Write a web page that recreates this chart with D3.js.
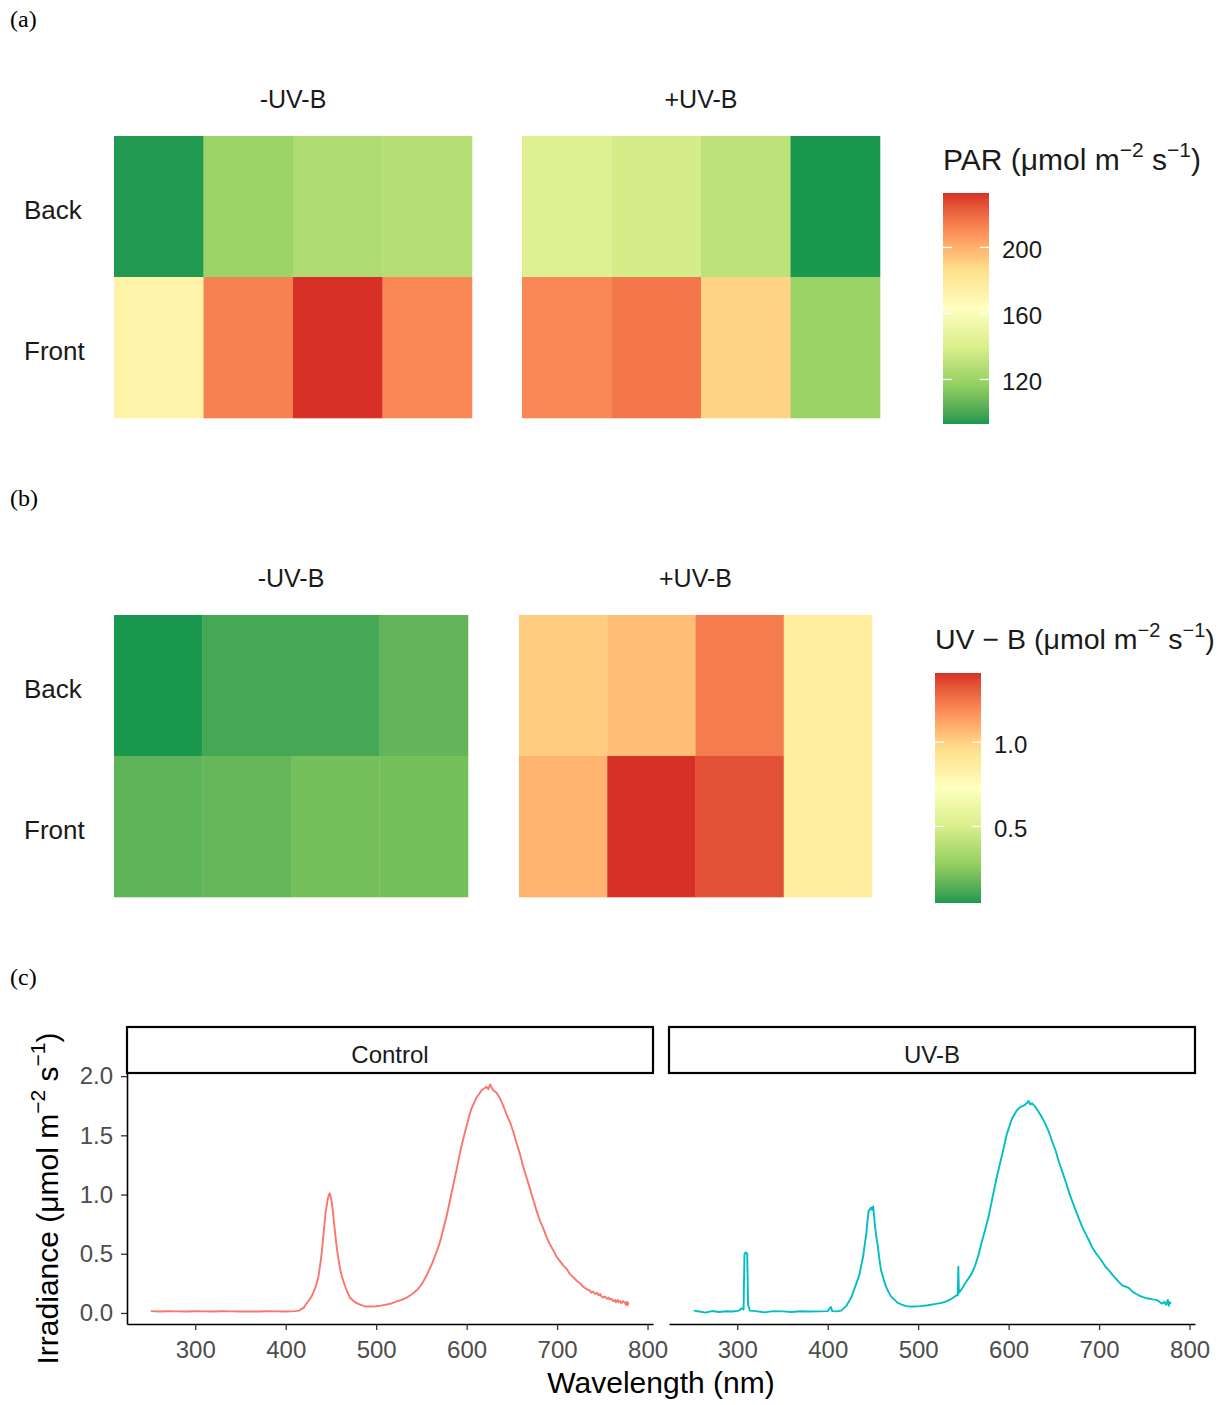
<!DOCTYPE html>
<html>
<head>
<meta charset="utf-8">
<script src="https://cdn.jsdelivr.net/npm/d3@7/dist/d3.min.js"></script>
<style>
  body { margin: 0; background: #fff; }
  svg { display: block; font-family: "Liberation Sans", Arial, sans-serif; }
</style>
</head>
<body>
<script>
// ---------------- DATA ----------------
const treatments = ["-UV-B", "+UV-B"];
const positions = ["Back", "Front"];
const columns = ["1", "2", "3", "4"];

// (a) PAR (µmol m-2 s-1)
const parMinusBack  = [94, 120, 126, 128];
const parMinusFront = [173, 213, 233, 211];
const parPlusBack   = [143, 138, 130, 93];
const parPlusFront  = [211, 216, 190, 119];
const parTicks = [120, 160, 200];

// (b) UV-B (µmol m-2 s-1)
const uvbMinusBack  = [0.046, 0.11, 0.11, 0.165];
const uvbMinusFront = [0.16, 0.175, 0.21, 0.21];
const uvbPlusBack   = [1.01, 1.05, 1.23, 0.87];
const uvbPlusFront  = [1.08, 1.41, 1.34, 0.87];
const uvbTicks = [0.5, 1.0];

// (c) spectra
const spectraPanels = ["Control", "UV-B"];
const controlWl = [251,260,270,280,290,300,310,320,330,340,350,360,370,380,390,400,410,415,420,423,427,430,433,436,438,440,442,444,446,447,448.7,450,451,452,454,456,458,460,462,465,468,471,475,478,482,487,493,500,505,511,517,522,528,534,540,546,551,556,562,566,570,574,578,583,588.6,594,599.6,605,611,616.6,620,622,624,626,628,629.5,633,637,640,644,648,651.6,655,659,662,666,670,674,677,681,685,688.4,692,695.8,699,703,707,710.8,714,718,722,725.5,729,733,736,738,740,742,744,746,747.6,749,751,753,755,757,758,760,762,764,765,767,768,770,771,773,775,776,777,778,779];
const controlIrr = [0.015,0.012,0.014,0.013,0.012,0.014,0.013,0.012,0.014,0.013,0.012,0.013,0.012,0.014,0.013,0.012,0.015,0.02,0.045,0.08,0.12,0.16,0.22,0.30,0.40,0.52,0.68,0.84,0.94,0.98,1.01,0.97,0.93,0.87,0.72,0.58,0.47,0.38,0.31,0.24,0.18,0.13,0.10,0.085,0.07,0.057,0.055,0.057,0.062,0.07,0.08,0.095,0.11,0.13,0.16,0.20,0.25,0.32,0.42,0.50,0.585,0.70,0.82,1.0,1.2,1.4,1.57,1.72,1.82,1.88,1.90,1.91,1.89,1.93,1.90,1.88,1.86,1.81,1.76,1.68,1.61,1.53,1.44,1.34,1.25,1.15,1.05,0.95,0.87,0.78,0.71,0.64,0.58,0.53,0.48,0.44,0.40,0.37,0.33,0.30,0.27,0.25,0.22,0.20,0.19,0.17,0.18,0.16,0.17,0.15,0.16,0.14,0.13,0.14,0.12,0.13,0.115,0.12,0.10,0.11,0.09,0.11,0.09,0.10,0.08,0.10,0.085,0.07,0.095,0.065,0.09,0.07];
const uvbWl = [252,258,265,272,280,288,295,302,305,307,308,309.5,311,312,314,320,330,340,350,360,370,380,390,400,403.5,405,410,415,420.7,426,431.7,435.3,437,439,441,442.7,444,445.2,447,448,449,450.3,451.5,452.5,454,455.5,457,459,462,464.6,467,470,474,477.4,482,486.6,495,503,511,518,526,532,537,542.6,543.8,544.4,545,548,552,559,563,566.7,570,574,578,581.5,587,592.6,598,603.7,609,613,616.7,620,622,624,626,629.6,633,637,641,644.4,648,652,655,659,663,666.7,670,674,678,681.5,685,689,692,696,700,703.7,707,711,715,718.6,722,726,730,733,737,741,745,748,752,755.6,759,763,766,768,770,772,774,776,777,778,779.6];
const uvbIrr = [0.02,0.012,0.003,0.016,0.008,0.014,0.012,0.02,0.04,0.03,0.50,0.51,0.50,0.07,0.02,0.015,0.005,0.015,0.013,0.008,0.014,0.012,0.013,0.015,0.05,0.015,0.013,0.02,0.06,0.13,0.25,0.33,0.40,0.47,0.58,0.67,0.78,0.86,0.88,0.89,0.87,0.90,0.80,0.72,0.63,0.56,0.46,0.36,0.28,0.22,0.18,0.14,0.11,0.085,0.07,0.057,0.055,0.058,0.065,0.075,0.085,0.10,0.12,0.15,0.15,0.39,0.17,0.20,0.25,0.33,0.40,0.49,0.59,0.70,0.82,0.95,1.15,1.33,1.51,1.64,1.71,1.74,1.75,1.77,1.79,1.76,1.77,1.74,1.70,1.65,1.59,1.53,1.45,1.37,1.29,1.20,1.11,1.02,0.95,0.87,0.79,0.725,0.67,0.61,0.56,0.51,0.47,0.43,0.39,0.36,0.32,0.29,0.26,0.23,0.22,0.21,0.18,0.16,0.145,0.135,0.125,0.12,0.115,0.11,0.10,0.085,0.08,0.095,0.07,0.11,0.06,0.09,0.08];
const irrTicks = [0, 0.5, 1.0, 1.5, 2.0];
const wlTicks = [300, 400, 500, 600, 700, 800];

// palette (RdYlGn, 7 classes, reversed)
const rdylgn7 = ["#1a9850","#91cf60","#d9ef8b","#ffffbf","#fee08b","#fc8d59","#d73027"];

// ---------------- SETUP ----------------
const W = 1223, H = 1405;
const svg = d3.select("body").append("svg").attr("width", W).attr("height", H);
const defs = svg.append("defs");
const TXT = "#1a1a1a";

function makeColor(vals) {
  const [mn, mx] = d3.extent(vals);
  return d3.scaleLinear()
    .domain(rdylgn7.map((_, i) => mn + i * (mx - mn) / 6))
    .range(rdylgn7)
    .interpolate(d3.interpolateLab);
}

function panelLabel(txt, y) {
  svg.append("text").attr("x", 10).attr("y", y)
    .attr("font-family", "'Liberation Serif', 'Times New Roman', serif")
    .attr("font-size", 24).attr("fill", "#000").text(txt);
}

function supTitle(sel, parts, size) {
  const supSize = Math.round(size * 0.7);
  const shift = size * 0.42;
  let raised = false;
  parts.forEach(([t, sup]) => {
    const ts = sel.append("tspan").text(t);
    if (sup) {
      ts.attr("font-size", supSize).attr("dy", raised ? 0 : -shift);
      raised = true;
    } else {
      ts.attr("font-size", size).attr("dy", raised ? shift : 0);
      raised = false;
    }
  });
}

function heatmap(cfg) {
  const { data, top, bottom, xRanges, facetY, ticks, legend, titleParts, id, tickFmt } = cfg;
  const allVals = data.flatMap(d => d.back.concat(d.front));
  const color = makeColor(allVals);
  const y = d3.scaleBand().domain(positions).range([top, bottom]);

  data.forEach((d, k) => {
    const x = d3.scaleBand().domain(columns).range(xRanges[k]);
    const g = svg.append("g");
    const cells = [];
    columns.forEach((c, i) => {
      cells.push({ col: c, pos: "Back", v: d.back[i] });
      cells.push({ col: c, pos: "Front", v: d.front[i] });
    });
    g.selectAll("rect").data(cells).join("rect")
      .attr("x", c => x(c.col)).attr("y", c => y(c.pos))
      .attr("width", x.bandwidth() + 0.3).attr("height", y.bandwidth() + 0.3)
      .attr("fill", c => color(c.v));
    svg.append("text")
      .attr("x", (xRanges[k][0] + xRanges[k][1]) / 2).attr("y", facetY)
      .attr("text-anchor", "middle").attr("dominant-baseline", "central")
      .attr("font-size", 25).attr("fill", TXT).text(d.treat);
  });

  positions.forEach(p => {
    svg.append("text").attr("x", 24).attr("y", y(p) + y.bandwidth() / 2 + 3)
      .attr("dominant-baseline", "central").attr("font-size", 26)
      .attr("fill", TXT).text(p);
  });

  // colourbar
  const [mn, mx] = d3.extent(allVals);
  const ly = d3.scaleLinear().domain([mn, mx]).range([legend.bottom, legend.top]);
  const grad = defs.append("linearGradient").attr("id", id)
    .attr("x1", 0).attr("y1", 1).attr("x2", 0).attr("y2", 0);
  d3.range(61).forEach(i => {
    grad.append("stop").attr("offset", i / 60)
      .attr("stop-color", color(mn + (mx - mn) * i / 60));
  });
  svg.append("rect").attr("x", legend.x).attr("y", legend.top)
    .attr("width", legend.w).attr("height", legend.bottom - legend.top)
    .attr("fill", `url(#${id})`);
  const tl = legend.w / 5;
  ticks.forEach(t => {
    svg.append("line").attr("x1", legend.x).attr("x2", legend.x + tl)
      .attr("y1", ly(t)).attr("y2", ly(t)).attr("stroke", "#fff").attr("stroke-width", 1.3);
    svg.append("line").attr("x1", legend.x + legend.w - tl).attr("x2", legend.x + legend.w)
      .attr("y1", ly(t)).attr("y2", ly(t)).attr("stroke", "#fff").attr("stroke-width", 1.3);
    svg.append("text").attr("x", legend.x + legend.w + 13).attr("y", ly(t) + 2)
      .attr("dominant-baseline", "central").attr("font-size", 24)
      .attr("fill", TXT).text(tickFmt(t));
  });
  const tt = svg.append("text").attr("x", legend.titleX).attr("y", legend.titleY)
    .attr("fill", TXT);
  supTitle(tt, titleParts, legend.titleSize);
}

// ---------------- (a) ----------------
panelLabel("(a)", 27);
heatmap({
  id: "gradPAR",
  data: [
    { treat: treatments[0], back: parMinusBack, front: parMinusFront },
    { treat: treatments[1], back: parPlusBack,  front: parPlusFront }
  ],
  top: 136, bottom: 418, xRanges: [[114, 472], [522, 880]], facetY: 99,
  ticks: parTicks, tickFmt: d3.format("d"),
  legend: { x: 943, w: 46, top: 193, bottom: 424, titleX: 943, titleY: 170, titleSize: 30 },
  titleParts: [["PAR (μmol m", false], ["−2", true], [" s", false], ["−1", true], [")", false]]
});

// ---------------- (b) ----------------
panelLabel("(b)", 506);
heatmap({
  id: "gradUVB",
  data: [
    { treat: treatments[0], back: uvbMinusBack, front: uvbMinusFront },
    { treat: treatments[1], back: uvbPlusBack,  front: uvbPlusFront }
  ],
  top: 615, bottom: 897, xRanges: [[114, 468], [519, 872]], facetY: 578,
  ticks: uvbTicks, tickFmt: d3.format(".1f"),
  legend: { x: 935, w: 46, top: 673, bottom: 903, titleX: 935, titleY: 649, titleSize: 28.5 },
  titleParts: [["UV − B (μmol m", false], ["−2", true], [" s", false], ["−1", true], [")", false]]
});

// ---------------- (c) ----------------
panelLabel("(c)", 985);
const series = [
  { name: spectraPanels[0], wl: controlWl, irr: controlIrr, color: "#F8766D" },
  { name: spectraPanels[1], wl: uvbWl, irr: uvbIrr, color: "#00BFC4" }
];
const allWl = controlWl.concat(uvbWl);
const allIrr = controlIrr.concat(uvbIrr);
const expand = (ext) => { const s = ext[1] - ext[0]; return [ext[0] - 0.05 * s, ext[1] + 0.05 * s]; };
const panelTop = 1073, panelBottom = 1324;
const yS = d3.scaleLinear().domain(expand(d3.extent(allIrr))).range([panelBottom, panelTop]);
const panelX = [[127, 653], [669, 1195]];

series.forEach((s, k) => {
  const xS = d3.scaleLinear().domain(expand(d3.extent(allWl))).range(panelX[k]);
  const pts = s.wl.map((w, i) => [w, s.irr[i]]);
  svg.append("path").datum(pts)
    .attr("d", d3.line().x(d => xS(d[0])).y(d => yS(d[1])))
    .attr("fill", "none").attr("stroke", s.color).attr("stroke-width", 1.9)
    .attr("stroke-linejoin", "round");

  // strip
  svg.append("rect").attr("x", panelX[k][0]).attr("y", 1027)
    .attr("width", panelX[k][1] - panelX[k][0]).attr("height", panelTop - 1027)
    .attr("fill", "#fff").attr("stroke", "#000").attr("stroke-width", 2.2);
  svg.append("text").attr("x", (panelX[k][0] + panelX[k][1]) / 2).attr("y", 1054)
    .attr("text-anchor", "middle").attr("dominant-baseline", "central")
    .attr("font-size", 24).attr("fill", TXT).text(s.name);

  // x axis
  const gx = svg.append("g").attr("transform", `translate(0,${panelBottom})`)
    .call(d3.axisBottom(xS).tickValues(wlTicks).tickSize(6).tickSizeOuter(0).tickPadding(11));
  gx.select(".domain").attr("stroke", "#000").attr("stroke-width", 1.6);
  gx.selectAll(".tick line").attr("stroke", "#333").attr("stroke-width", 1.3);
  gx.selectAll(".tick text").attr("font-size", 24).attr("fill", "#4d4d4d")
    .attr("font-family", "'Liberation Sans', Arial, sans-serif");

  if (k === 0) {
    const gy = svg.append("g").attr("transform", `translate(${panelX[0][0]},0)`)
      .call(d3.axisLeft(yS).tickValues(irrTicks).tickFormat(d3.format(".1f"))
        .tickSize(6).tickSizeOuter(0).tickPadding(8));
    gy.select(".domain").attr("stroke", "#000").attr("stroke-width", 1.6);
    gy.selectAll(".tick line").attr("stroke", "#333").attr("stroke-width", 1.3);
    gy.selectAll(".tick text").attr("font-size", 24).attr("fill", "#4d4d4d")
      .attr("font-family", "'Liberation Sans', Arial, sans-serif");
  }
});

svg.append("text").attr("x", (panelX[0][0] + panelX[1][1]) / 2).attr("y", 1393)
  .attr("text-anchor", "middle").attr("font-size", 30).attr("fill", "#000")
  .text("Wavelength (nm)");

const yt = svg.append("text")
  .attr("transform", `translate(58,${(panelTop + panelBottom) / 2}) rotate(-90)`)
  .attr("text-anchor", "middle").attr("fill", "#000");
supTitle(yt, [["Irradiance (μmol m", false], ["−2", true], [" s", false], ["−1", true], [")", false]], 30);
</script>
</body>
</html>
